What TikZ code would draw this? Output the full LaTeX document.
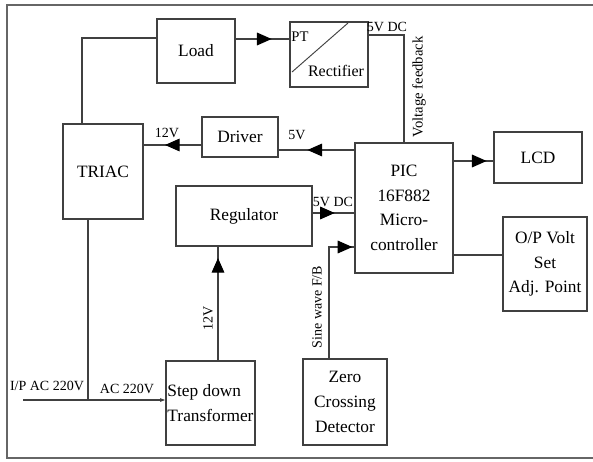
\documentclass[tikz,border=0pt]{standalone}
\usepackage{fontspec}
\setmainfont{Liberation Serif}
\usetikzlibrary{arrows.meta,decorations.markings}

\tikzset{
  blk/.style 2 args={draw=black!75, line width=0.9pt, inner sep=1pt, align=center,
    minimum width=#1*0.75pt, minimum height=#2*0.75pt,
    font=\fontsize{13}{18.5}\selectfont},
  wire/.style={draw=black!75, line width=0.9pt},
  midarr/.style={postaction={decorate}, decoration={markings,
    mark=at position #1 with {\arrow[black]{Triangle[length=11pt,width=9.5pt]}}}},
  lbl/.style={inner sep=0pt, font=\fontsize{10.5}{12}\selectfont},
}

\begin{document}
\begin{tikzpicture}[x=0.75pt, y=-0.75pt]
\useasboundingbox (0,0) rectangle (593,461);

% --- outer frame ---
\draw[black!60, line width=1pt] (593,5) -- (7,5) -- (7,458) -- (593,458);

% --- Blocks ---
\node[blk={78}{64}]  (load)  at (196,51)    {Load};
\node[blk={78}{65}]  (rect)  at (329,54.5)  {};
\node[blk={76}{40}]  (drv)   at (240,137)   {Driver};
\node[blk={80}{95}]  (triac) at (103,171.5) {TRIAC};
\node[blk={98}{130}] (pic)   at (404,208)   {PIC\\16F882\\Micro-\\controller};
\node[blk={88}{51}]  (lcd)   at (538,157.5) {LCD};
\node[blk={84}{94}]  (opv)   at (545,264)   {O/P Volt\\Set\\Adj. Point};
\node[blk={136}{60}] (reg)   at (244,216)   {Regulator};
\node[blk={89}{84}, align=left] (step) at (210.5,403) {Step down\\Transformer};
\node[blk={84}{86}]  (zcd)   at (345,402)   {Zero\\Crossing\\Detector};

% rectifier inside
\draw[wire, line width=0.7pt] (292,72) -- (348,23);
\node[lbl, font=\fontsize{11}{12}\selectfont] (pt) at (300,37) {PT};
\node[lbl, font=\fontsize{12}{13}\selectfont] (rtxt) at (336,71) {Rectifier};

% --- Connectors ---
\draw[wire] (triac.north -| 82,0) |- (load.west |- 0,38);
\draw[wire, midarr=0.67] (load.east |- 0,39) -- (rect.west |- 0,39);
\draw[wire] (rect.east |- 0,35) -| (pic.north);
\draw[wire, midarr=0.62] (pic.west |- 0,150) -- (drv.east |- 0,150);
\draw[wire, midarr=0.63] (drv.west |- 0,145) -- (triac.east |- 0,145);
\draw[wire, midarr=0.83] (pic.east |- 0,161) -- (lcd.west |- 0,161);
\draw[wire] (pic.east |- 0,255) -- (opv.west |- 0,255);
\draw[wire, midarr=0.53] (reg.east |- 0,213) -- (pic.west |- 0,213);
\draw[wire, midarr=0.9] (step.north -| 218,0) -- (reg.south -| 218,0);
\draw[wire, midarr=0.985] (zcd.north -| 329,0) |- (pic.west |- 0,247);

% mains input
\coordinate (acin) at (23,400);
\coordinate (jn) at (88,400);
\draw[wire] (triac.south -| jn) -- (jn);
\draw[wire, -{Triangle[length=4pt,width=2.5pt]}] (acin) -- (step.west |- acin);

% --- Labels ---
\node[lbl] (l5vdc)  at (387,27)  {5V DC};
\node[lbl, rotate=90, font=\fontsize{11}{12}\selectfont] (lvfb) at (419,87) {Voltage feedback};
\node[lbl] (l5v)    at (297,135) {5V};
\node[lbl] (l12v)   at (167,133) {12V};
\node[lbl] (l5vdc2) at (333,202) {5V DC};
\node[lbl, rotate=90] (l12v2) at (208,318) {12V};
\node[lbl, rotate=90] (lsine) at (317,307) {Sine wave F/B};
\node[lbl] (lip)    at (47,386)  {I/P AC 220V};
\node[lbl] (lac)    at (127,389) {AC 220V};

\end{tikzpicture}
\end{document}
